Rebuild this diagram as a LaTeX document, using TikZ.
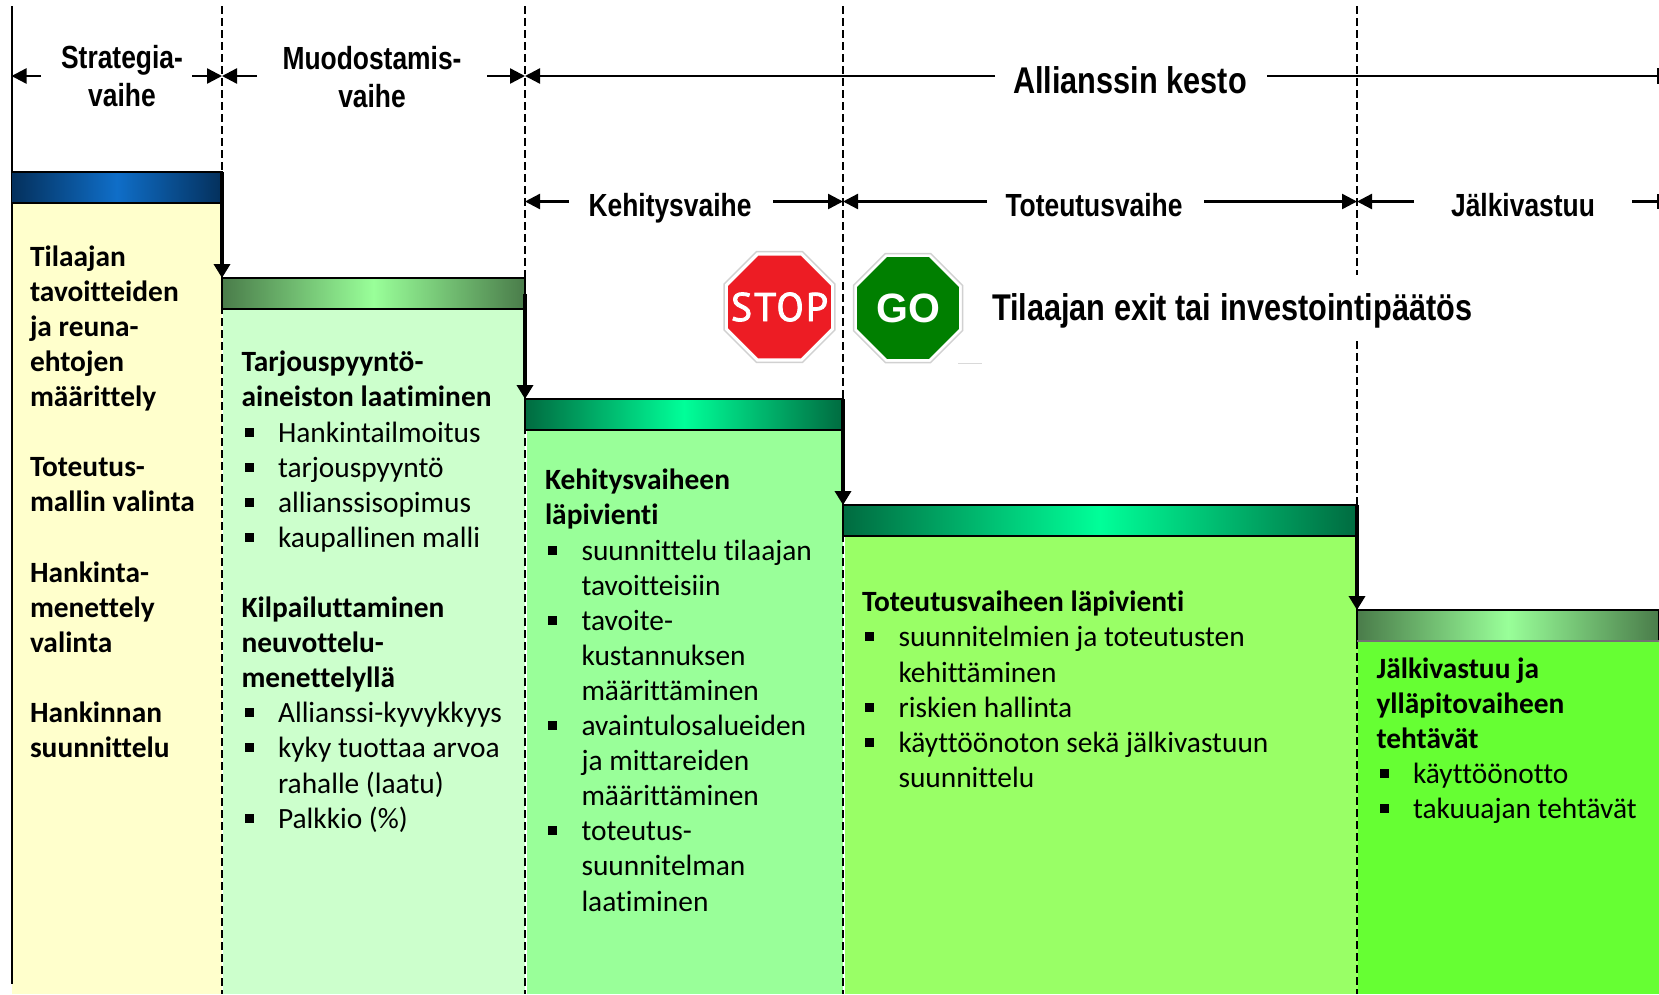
\documentclass[tikz,border=0pt]{standalone}
\usepackage{fontspec}
\setmainfont[Ligatures=NoCommon]{Carlito}
\newfontfamily\hdrfont[FakeStretch=0.825]{Liberation Sans}
\newfontfamily\goFont{Liberation Sans}
\newfontfamily\stopFont[LetterSpace=5,FakeBold=2]{PT Sans}
\usetikzlibrary{arrows.meta,shapes.geometric}
\definecolor{bodyA}{HTML}{FFFFCC}
\definecolor{bodyB}{HTML}{CCFFCC}
\definecolor{bodyC}{HTML}{99FF99}
\definecolor{bodyD}{HTML}{99FF66}
\definecolor{bodyE}{HTML}{66FF33}
\definecolor{navyEnd}{HTML}{04305C}
\definecolor{navyMid}{HTML}{0F6EC8}
\definecolor{sageEnd}{HTML}{4A7C4A}
\definecolor{sageMid}{HTML}{99FF99}
\definecolor{jadeEnd}{HTML}{006B40}
\definecolor{jadeMid}{HTML}{00FF99}
\definecolor{stopRed}{HTML}{ED1C24}
\definecolor{goGreen}{HTML}{007F00}
\newcommand\B[1]{\textbf{#1}}
\newcommand\bul{\makebox[36.5pt][l]{\hspace{3pt}\rule[5.5pt]{9pt}{9pt}}}
\newcommand\ind{\hspace*{36.5pt}}
\tikzset{
  x=1pt,y=-1pt,
  colfill/.style={anchor=north west,inner sep=0pt,outer sep=0pt},
  headbar/.style={anchor=north west,inner sep=0pt,outer sep=0pt,draw=black,line width=1.5pt,minimum height=31pt},
  bodytext/.style={anchor=north west,inner sep=0pt,outer sep=0pt,align=left,text=black,
    font=\fontsize{29.4}{35.1}\selectfont,execute at begin node={\rule{0pt}{22pt}}},
  phase/.style={inner sep=0pt,outer sep=0pt,align=center,font=\hdrfont\bfseries\fontsize{32}{38}\selectfont},
  bigphase/.style={inner sep=0pt,outer sep=0pt,align=center,font=\hdrfont\bfseries\fontsize{37.2}{44}\selectfont},
  dimline/.style={line width=2.4pt,draw=black},
  dimtip/.style={dimline,-{Triangle[length=15pt,width=15pt]}},
  steparrow/.style={line width=4pt,draw=black,-{Triangle[length=14pt,width=16pt]}},
  phaseline/.style={line width=1.4pt,draw=black,dash pattern=on 7.5pt off 4.5pt},
  signborder/.style={regular polygon,regular polygon sides=8,inner sep=0pt,outer sep=0pt,
    fill=white,draw=black!18,line width=1.5pt,minimum size=120pt},
  signface/.style={regular polygon,regular polygon sides=8,inner sep=0pt,outer sep=0pt,
    minimum size=111pt},
  signword/.style={inner sep=0pt,outer sep=0pt,text=white},
}
\begin{document}
\begin{tikzpicture}
\useasboundingbox (0,0) rectangle (1659,994);
\fill[white] (0,0) rectangle (1659,994);
% column fills
\node[colfill,fill=bodyA,minimum width=210.5pt,minimum height=791pt] (fillA) at (11.5,203) {};
\node[colfill,fill=bodyB,minimum width=302pt,minimum height=685pt] (fillB) at (222.5,309) {};
\node[colfill,fill=bodyC,minimum width=316.5pt,minimum height=565pt] (fillC) at (526.5,429) {};
\node[colfill,fill=bodyD,minimum width=513pt,minimum height=459pt] (fillD) at (844.5,535) {};
\node[colfill,fill=bodyE,minimum width=301pt,minimum height=353pt] (fillE) at (1358,641) {};
% coordinates
\coordinate (axisTop) at (11.5,6);
\coordinate (axisBot) at (11.5,984);
\foreach \n/\x in {a/222,b/525,c/843,d/1357}{
  \coordinate (\n Top) at (\x,6);
  \coordinate (\n Bot) at (\x,994);
}
\coordinate (dMidA) at (1357,275);
\coordinate (dMidB) at (1357,341);
% vertical lines
\draw[line width=2pt] (axisTop) -- (axisBot);
\draw[phaseline] (aTop) -- (aBot);
\draw[phaseline] (bTop) -- (bBot);
\draw[phaseline] (cTop) -- (cBot);
\draw[phaseline] (dTop) -- (dMidA);
\draw[phaseline] (dMidB) -- (dBot);
% header bars
\node[headbar,left color=navyEnd,right color=navyEnd,middle color=navyMid,minimum width=210.5pt] (barA) at (11.5,172) {};
\node[headbar,left color=sageEnd,right color=sageEnd,middle color=sageMid,minimum width=303pt] (barB) at (222,278) {};
\node[headbar,left color=jadeEnd,right color=jadeEnd,middle color=jadeMid,minimum width=318pt] (barC) at (525,399) {};
\node[headbar,left color=jadeEnd,right color=jadeEnd,middle color=jadeMid,minimum width=514pt] (barD) at (843,505) {};
\node[headbar,left color=sageEnd,right color=sageEnd,middle color=sageMid,minimum width=302pt] (barE) at (1357,610) {};
\draw[black!55,line width=1.5pt] (barE.south west) -- (barE.south east);
% step arrows
\draw[steparrow] (barA.north east) -- (barB.north west);
\coordinate (barBstart) at (525,294);
\draw[steparrow] (barBstart) -- (barC.north west);
\draw[steparrow] (barC.north east) -- (barD.north west);
\draw[steparrow] (barD.north east) -- (barE.north west);
% phase labels
\node[phase] (strategia) at (122,76) {Strategia-\\vaihe};
\node[phase] (muodostamis) at (372,77) {Muodostamis-\\vaihe};
\node[bigphase] (kesto) at (1130,80) {Allianssin kesto};
\node[phase] (kehitys) at (670,208.5) {Kehitysvaihe};
\node[phase] (toteutus) at (1094,205) {Toteutusvaihe};
\node[phase] (jalki) at (1523,205) {Jälkivastuu};
% dimension arrows
\coordinate (s1) at (41,76);\coordinate (s2) at (192,76);
\coordinate (m1) at (257,76);\coordinate (m2) at (487,76);
\coordinate (k1) at (995,76);\coordinate (k2) at (1267,76);
\coordinate (axisL) at (11.5,76);\coordinate (aL) at (222,76);\coordinate (bL) at (525,76);\coordinate (endL) at (1658,76);
\draw[dimtip] (s1) -- (axisL);
\draw[dimtip] (s2) -- (aL);
\draw[dimtip] (m1) -- (aL);
\draw[dimtip] (m2) -- (bL);
\draw[dimtip] (k1) -- (bL);
\draw[dimline] (k2) -- (endL);
\draw[line width=1.4pt] (1658,68) -- (1658,84);
\coordinate (ke1) at (569,201.5);\coordinate (ke2) at (773,201.5);
\coordinate (to1) at (987,201.5);\coordinate (to2) at (1204,201.5);
\coordinate (ja1) at (1414,201.5);\coordinate (ja2) at (1632,201.5);
\coordinate (bM) at (525,201.5);\coordinate (cM) at (843,201.5);\coordinate (dM) at (1357,201.5);\coordinate (endM) at (1658,201.5);
\draw[dimtip] (ke1) -- (bM);
\draw[dimtip] (ke2) -- (cM);
\draw[dimtip] (to1) -- (cM);
\draw[dimtip] (to2) -- (dM);
\draw[dimtip] (ja1) -- (dM);
\draw[dimline] (ja2) -- (endM);
\draw[line width=1.4pt] (1658,194) -- (1658,209);
% signs
\node[signborder] (stopOut) at (779.5,307) {};
\node[signface,fill=stopRed] (stopIn) at (779.5,307) {};
\node[signword,font=\stopFont\fontsize{40}{40}\selectfont] (stopWord) at (779.5,307) {STOP};
\node[signborder,minimum size=118pt] (goOut) at (908,308) {};
\node[signface,fill=goGreen,minimum size=110pt] (goIn) at (908,308) {};
\node[signword,font=\goFont\bfseries\fontsize{41}{41}\selectfont] (goWord) at (908,308) {GO};
\draw[black!15,line width=0.8pt] (958,363) -- (982,363);
\node[bigphase,anchor=west] (exit) at (992,311) {Tilaajan exit tai investointipäätös};
% body texts
\node[bodytext] (textA) at (30,245.5) {\B{Tilaajan}\\\B{tavoitteiden}\\\B{ja reuna-}\\\B{ehtojen}\\\B{määrittely}\\[35.1pt]
\B{Toteutus-}\\\B{mallin valinta}\\[35.1pt]
\B{Hankinta-}\\\B{menettely}\\\B{valinta}\\[35.1pt]
\B{Hankinnan}\\\B{suunnittelu}};
\node[bodytext] (textB) at (241.5,351.2) {\B{Tarjouspyyntö-}\\\B{aineiston laatiminen}\\
\bul Hankintailmoitus\\\bul tarjouspyyntö\\\bul allianssisopimus\\\bul kaupallinen malli\\[35.1pt]
\B{Kilpailuttaminen}\\\B{neuvottelu-}\\\B{menettelyllä}\\
\bul Allianssi-kyvykkyys\\\bul kyky tuottaa arvoa\\\ind rahalle (laatu)\\\bul Palkkio (\%)};
\node[bodytext] (textC) at (545,469.2) {\B{Kehitysvaiheen}\\\B{läpivienti}\\
\bul suunnittelu tilaajan\\\ind tavoitteisiin\\
\bul tavoite-\\\ind kustannuksen\\\ind määrittäminen\\
\bul avaintulosalueiden\\\ind ja mittareiden\\\ind määrittäminen\\
\bul toteutus-\\\ind suunnitelman\\\ind laatiminen};
\node[bodytext] (textD) at (862,591.2) {\B{Toteutusvaiheen läpivienti}\\
\bul suunnitelmien ja toteutusten\\\ind kehittäminen\\
\bul riskien hallinta\\
\bul käyttöönoton sekä jälkivastuun\\\ind suunnittelu};
\node[bodytext] (textE) at (1376.5,657.5) {\B{Jälkivastuu ja}\\\B{ylläpitovaiheen}\\\B{tehtävät}\\
\bul käyttöönotto\\\bul takuuajan tehtävät};
\end{tikzpicture}
\end{document}
